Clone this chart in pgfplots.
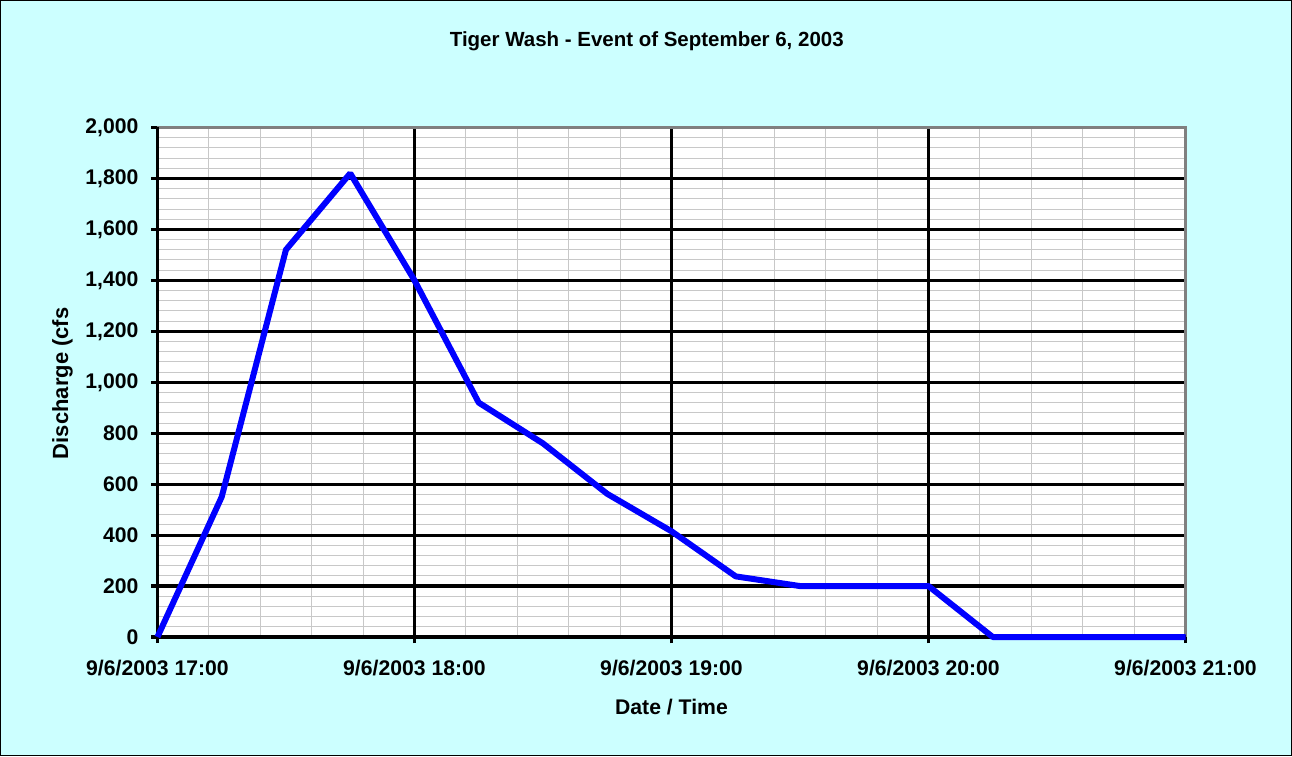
\documentclass[border=0pt]{standalone}
\usepackage{fontspec}
\setmainfont{Liberation Sans}
\usepackage{pgfplots}
\pgfplotsset{compat=1.18}
\definecolor{bgcyan}{HTML}{CCFFFF}
\definecolor{minorgray}{HTML}{C8C8C8}
\definecolor{bordergray}{HTML}{808080}

\pgfplotstableread{
t    q
17.00   0
17.25 550
17.50 1520
17.75 1820
18.00 1400
18.25 920
18.50 760
18.75 562
19.00 415
19.25 238
19.50 200
19.75 200
20.00 200
20.25 0
20.50 0
20.75 0
21.00 0
}\flowdata

\begin{document}
\begin{tikzpicture}
  % chart area (1 px of the original = 0.5bp)
  \draw[fill=bgcyan, draw=black, line width=0.6bp] (-78.5bp,-59.5bp) rectangle (567.5bp,318.5bp);
  \begin{axis}[
    scale only axis,
    width=514.5bp, height=255bp,
    xmin=17, xmax=21, ymin=0, ymax=2000,
    xtick={17,18,19,20,21},
    xticklabels={9/6/2003 17:00, 9/6/2003 18:00, 9/6/2003 19:00, 9/6/2003 20:00, 9/6/2003 21:00},
    ytick={0,200,...,2000},
    minor x tick num=4, minor y tick num=4,
    grid=both,
    major grid style={black, line width=1.6bp},
    minor grid style={minorgray, line width=0.5bp},
    % vertical major lines again, on top of the minor grid
    extra x ticks={18,19,20},
    extra x tick labels={},
    extra x tick style={grid=major, major grid style={black, line width=1.6bp}, major tick length=3bp},
    axis background/.style={fill=white},
    axis line style={draw=none},
    tick pos=left, tick align=outside,
    major tick length=3bp, minor tick length=0pt,
    every tick/.style={black, line width=1.6bp},
    /pgf/number format/assume math mode=true,
    /pgf/number format/1000 sep={,},
    ticklabel style={font=\fontsize{10.6bp}{12bp}\selectfont\bfseries},
    xticklabel style={yshift=-5bp},
    yticklabel style={xshift=-3bp},
    title={Tiger Wash - Event of September 6, 2003},
    title style={font=\fontsize{10.25bp}{12bp}\selectfont\bfseries, at={(rel axis cs:0.476,1.145)}, anchor=center},
    xlabel={Date / Time},
    xlabel style={font=\fontsize{10.6bp}{12bp}\selectfont\bfseries, at={(rel axis cs:0.5,-0.137)}, anchor=center},
    ylabel={Discharge (cfs},
    ylabel style={font=\fontsize{11bp}{12bp}\selectfont\bfseries, at={(rel axis cs:-0.0923,0.498)}, anchor=center, rotate=0},
    clip=false,
  ]
    \draw[bordergray, line width=1.5bp] (rel axis cs:0,1) -- (rel axis cs:1,1) -- (rel axis cs:1,0);
    \draw[black, line width=1.6bp] (rel axis cs:0,1) -- (rel axis cs:0,0) -- (rel axis cs:1,0);
    \addplot[blue, line width=3bp, line join=bevel] table[x=t, y=q] {\flowdata};
  \end{axis}
\end{tikzpicture}
\end{document}
